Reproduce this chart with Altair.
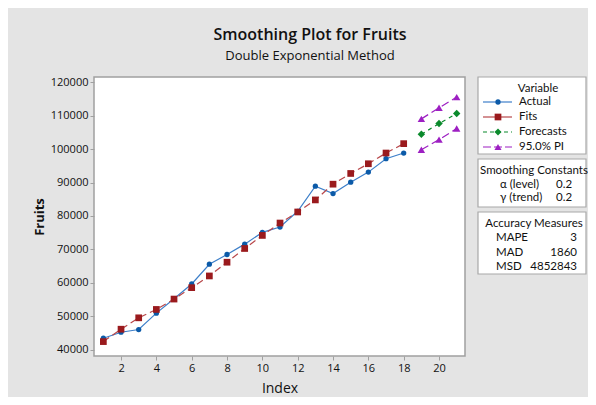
import altair as alt
import pandas as pd

# ---- data ----
index = list(range(1, 19))
actual = [43500, 45300, 46100, 51000, 55300, 59700, 65600, 68500, 71600,
          75100, 76700, 81400, 88900, 86700, 90100, 93100, 97100, 98800]
fits = [42500, 46200, 49600, 52100, 55200, 58600, 62100, 66200, 70300,
        74200, 77900, 81200, 84800, 89500, 92700, 95600, 98800, 101600]
fc_index = [19, 20, 21]
forecasts = [104400, 107600, 110600]
pi_upper = [109000, 112300, 115500]
pi_lower = [99800, 102800, 106100]

x_ticks = [2, 4, 6, 8, 10, 12, 14, 16, 18, 20]
y_ticks = [40000, 50000, 60000, 70000, 80000, 90000, 100000, 110000, 120000]

title = "Smoothing Plot for Fruits"
subtitle = "Double Exponential Method"
legend_title = "Variable"
legend_labels = ["Actual", "Fits", "Forecasts", "95.0% PI"]
const_title = "Smoothing Constants"
const_names = ["α (level)", "γ (trend)"]
const_values = ["0.2", "0.2"]
acc_title = "Accuracy Measures"
acc_names = ["MAPE", "MAD", "MSD"]
acc_values = ["3", "1860", "4852843"]

BLUE_LINE = "#3d7fc9"
BLUE = "#0b5aa8"
RED = "#9a1a1d"
RED_LINE = "#b8474a"
GREEN = "#0b8a2c"
PURPLE = "#9d1fc2"
FONT = "Open Sans"
LFONT = "Lato"

df_act = pd.DataFrame({"Index": index, "v": actual})
df_fit = pd.DataFrame({"Index": index, "v": fits})
df_fc = pd.DataFrame({"Index": fc_index, "v": forecasts})
df_pi = pd.concat([
    pd.DataFrame({"Index": fc_index, "v": pi_upper, "b": "upper"}),
    pd.DataFrame({"Index": fc_index, "v": pi_lower, "b": "lower"}),
])

xs = alt.Scale(domain=[0.47, 21.47], nice=False, zero=False)
ys = alt.Scale(domain=[38200, 121500], nice=False, zero=False)

X = alt.X("Index:Q", scale=xs, axis=alt.Axis(
    title="Index", values=x_ticks, grid=False, domain=False,
    tickColor="#a0a0a0", tickSize=4, labelPadding=2, labelFontSize=11,
    labelColor="#111", labelFont=FONT, titleFont=FONT, titleFontSize=14,
    titleFontWeight="normal", titleColor="#111", titlePadding=8))
Y = alt.Y("v:Q", scale=ys, axis=alt.Axis(
    title="Fruits", values=y_ticks, format="d", grid=False, domain=False,
    tickColor="#a0a0a0", tickSize=4, labelPadding=2, labelFontSize=11,
    labelColor="#111", labelFont=FONT, titleFont=FONT, titleFontSize=13,
    titleFontWeight="bold", titleColor="#111", titlePadding=4))

act_line = alt.Chart(df_act).mark_line(color=BLUE_LINE, strokeWidth=1.2).encode(x=X, y=Y)
act_pts = alt.Chart(df_act).mark_point(shape="circle", filled=True, opacity=1,
                                       color=BLUE, size=28).encode(x=X, y=Y)
fit_line = alt.Chart(df_fit).mark_line(color=RED_LINE, strokeWidth=1.2,
                                       strokeDash=[7, 4]).encode(x=X, y=Y)
fit_pts = alt.Chart(df_fit).mark_point(shape="square", filled=True, opacity=1,
                                       color=RED, size=45).encode(x=X, y=Y)
fc_line = alt.Chart(df_fc).mark_line(color=GREEN, strokeWidth=1.2,
                                     strokeDash=[4, 4]).encode(x=X, y=Y)
fc_pts = alt.Chart(df_fc).mark_point(shape="diamond", filled=True, opacity=1,
                                     color=GREEN, size=55).encode(x=X, y=Y)
pi_line = alt.Chart(df_pi).mark_line(color=PURPLE, strokeWidth=1.2,
                                     strokeDash=[8, 4]).encode(x=X, y=Y, detail="b:N")
pi_pts = alt.Chart(df_pi).mark_point(shape="triangle-up", filled=True, opacity=1,
                                     color=PURPLE, size=55).encode(x=X, y=Y)

one = pd.DataFrame({"a": [0]})


def text(label, x, y, size=11.5, align="left", weight="normal", color="#111", font=LFONT):
    return alt.Chart(one).mark_text(text=label, align=align, baseline="middle",
                                    font=font, fontSize=size, fontWeight=weight,
                                    color=color).encode(x=alt.value(x), y=alt.value(y))


def box(x1, x2, y1, y2):
    return alt.Chart(one).mark_rect(fill="white", stroke="#a8a8a8",
                                    strokeWidth=1.2).encode(
        x=alt.value(x1), x2=alt.value(x2), y=alt.value(y1), y2=alt.value(y2))


def rule(x1, x2, y, color, dash=None):
    kw = dict(color=color, strokeWidth=1.2)
    if dash:
        kw["strokeDash"] = dash
    return alt.Chart(one).mark_rule(**kw).encode(
        x=alt.value(x1), x2=alt.value(x2), y=alt.value(y))


def marker(x, y, shape, color, size):
    return alt.Chart(one).mark_point(shape=shape, filled=True, opacity=1,
                                     color=color, size=size).encode(
        x=alt.value(x), y=alt.value(y))


layers = [act_line, fit_line, fc_line, pi_line, act_pts, fit_pts, fc_pts, pi_pts]

# titles
layers.append(text(title, 216, -42, size=16, align="center", weight=600, font=FONT))
layers.append(text(subtitle, 216, -21, size=13, align="center", font=FONT))

# legend box 1
layers.append(box(384, 492, 0, 77))
layers.append(text(legend_title, 444, 12, align="center"))
row_y = [25, 40, 55, 70]
styles = [(BLUE_LINE, None, "circle", BLUE, 28),
          (RED_LINE, None, "square", RED, 45),
          (GREEN, [4, 3], "diamond", GREEN, 50),
          (PURPLE, [8, 3], "triangle-up", PURPLE, 50)]
for lab, yy, (lc, dash, shp, mc, sz) in zip(legend_labels, row_y, styles):
    layers.append(rule(389, 418, yy, lc, dash))
    layers.append(marker(404, yy, shp, mc, sz))
    layers.append(text(lab, 425, yy))

# box 2
layers.append(box(384, 492, 82, 130))
layers.append(text(const_title, 440, 94, align="center"))
for nm, val, yy in zip(const_names, const_values, [108, 121]):
    layers.append(text(nm, 406, yy))
    layers.append(text(val, 462, yy))

# box 3
layers.append(box(384, 492, 135, 197))
layers.append(text(acc_title, 440, 147, align="center"))
for nm, val, yy in zip(acc_names, acc_values, [161, 176, 190]):
    layers.append(text(nm, 402, yy))
    layers.append(text(val, 483, yy, align="right"))

chart = alt.layer(*layers).properties(
    width=371, height=279,
    padding={"left": 86, "top": 69, "right": 123, "bottom": 41},
    autosize=alt.AutoSizeParams(type="none"),
    background="#e4e4e4",
).configure_view(fill="white", stroke="#a0a0a0", strokeWidth=1.5)

chart.save("out.html", embed_options={"renderer": "svg", "actions": False})
